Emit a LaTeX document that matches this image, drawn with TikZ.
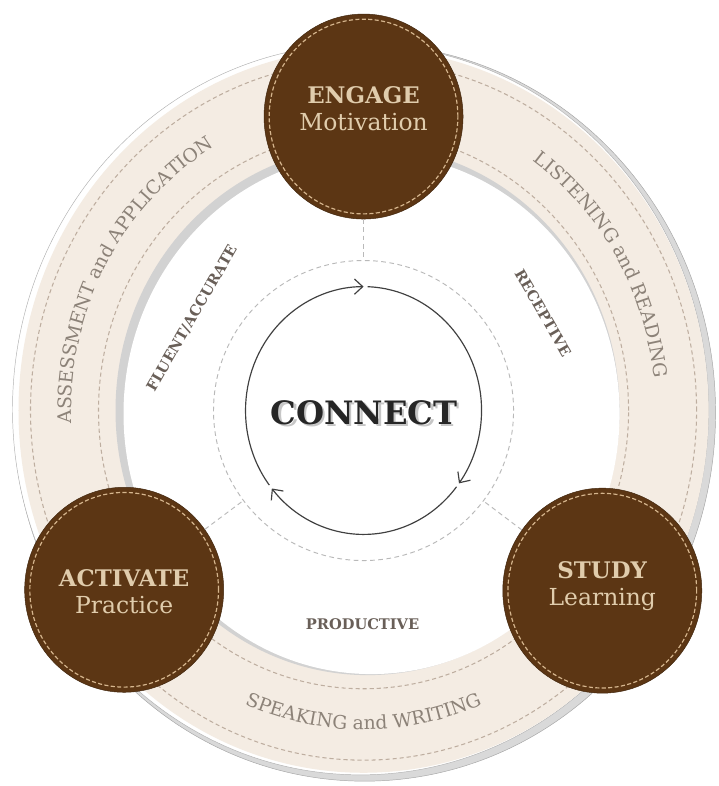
\documentclass[tikz,border=0pt]{standalone}
\usepackage{fontspec}
\setmainfont{DejaVu Serif}
\usetikzlibrary{decorations.text,arrows.meta,shapes.geometric}
\definecolor{leather}{RGB}{92,54,20}
\definecolor{stitch}{RGB}{214,182,142}
\definecolor{tan}{RGB}{224,204,172}
\definecolor{sand}{RGB}{244,236,227}
\definecolor{seamc}{RGB}{190,174,160}
\definecolor{ringtext}{RGB}{140,130,120}
\definecolor{labeltext}{RGB}{105,95,88}
\newcommand\ringfont{\fontsize{16}{17}\selectfont\color{ringtext}}

\begin{document}
\begin{tikzpicture}[x=0.03cm, y=0.0315cm,
        phase/.style={ellipse, fill=leather, draw=leather!70!black, minimum width=5.97cm, minimum height=6.15cm,
            path picture={\draw[stitch, line width=1pt, dash pattern=on 3.5pt off 2pt] (path picture bounding box.center) ellipse [x radius=2.83cm, y radius=2.92cm];}},
        phasetext/.style={align=center, text=tan, font=\fontsize{20}{23}\selectfont},
        side/.style={font=\bfseries\fontsize{12.5}{14}\selectfont, text=labeltext},
        ring/.style={decorate, decoration={text along path, text align=center, text={|\ringfont|#1}}},
        seam/.style={draw=seamc, line width=0.9pt, dash pattern=on 3.5pt off 2.5pt},
        hub/.style={circle, draw=gray!55, line width=0.8pt, dash pattern=on 4pt off 3pt, minimum size=9cm},
        spoke/.style={draw=gray!55, line width=0.8pt, dash pattern=on 4pt off 3pt},
        cycle/.style={draw=black!75, line width=1pt, -{Straight Barb[length=7pt,width=13pt]}},
        connect/.style={font=\bfseries\fontsize{27.5}{28}\selectfont, text=black!85}]
        \useasboundingbox (-363.5,-357.6) rectangle (354.5,391);
        \filldraw[draw=gray!70, fill=gray!30] (1,-2) circle (351);
        \filldraw[draw=gray!60, fill=white] (-3,1) circle (348);
        \fill[sand] (0,0) circle (345);
        \fill[gray!35] (4,0) circle (252);
        \fill[white] (8,-3) circle (248);
        \draw[seam] (0,0) circle (333) (0,0) circle (265);

        \path[ring={ASSESSMENT and APPLICATION}] (211:292) arc[start angle=211, end angle=91, radius=292];
        \path[ring={LISTENING and READING}] (91:292) arc[start angle=91, end angle=-29, radius=292];
        \path[ring={SPEAKING and WRITING}] (210:304) arc[start angle=210, end angle=330, radius=304];

        \node[hub] (H) at (0,0) {};
        \draw[cycle] (217:118) arc[start angle=217, end angle=90, radius=118];
        \draw[cycle] (88:118) arc[start angle=88, end angle=-36, radius=118];
        \draw[cycle] (322:118) arc[start angle=322, end angle=219, radius=118];

        \node[connect, text=gray!45] (Cs) at (3,-4.5) {CONNECT};
        \node[connect] (C) at (0.5,-2) {CONNECT};

        \node[side, rotate=60] (FA) at (-171.5,88) {FLUENT/ACCURATE};
        \node[side, rotate=-60] (R) at (179.5,93) {RECEPTIVE};
        \node[side] (P) at (-1,-203) {PRODUCTIVE};

        \node[phase] (Eng) at (90:280) {};
        \node[phase] (Act) at (215.5:294) {};
        \node[phase] (Stu) at (324.3:294) {};
        \draw[spoke] (Eng) -- (H);
        \draw[spoke] (Act) -- (H);
        \draw[spoke] (Stu) -- (H);

        \node[phasetext] (EngT) at ([yshift=7pt]Eng.center) {\textbf{\fontsize{19.5}{23}\selectfont ENGAGE}\\Motivation};
        \node[phasetext] (ActT) at ([yshift=-2pt]Act.center) {\textbf{\fontsize{19.5}{23}\selectfont ACTIVATE}\\Practice};
        \node[phasetext] (StuT) at ([yshift=4pt]Stu.center) {\textbf{\fontsize{19.5}{23}\selectfont STUDY}\\Learning};
\end{tikzpicture}
\end{document}
